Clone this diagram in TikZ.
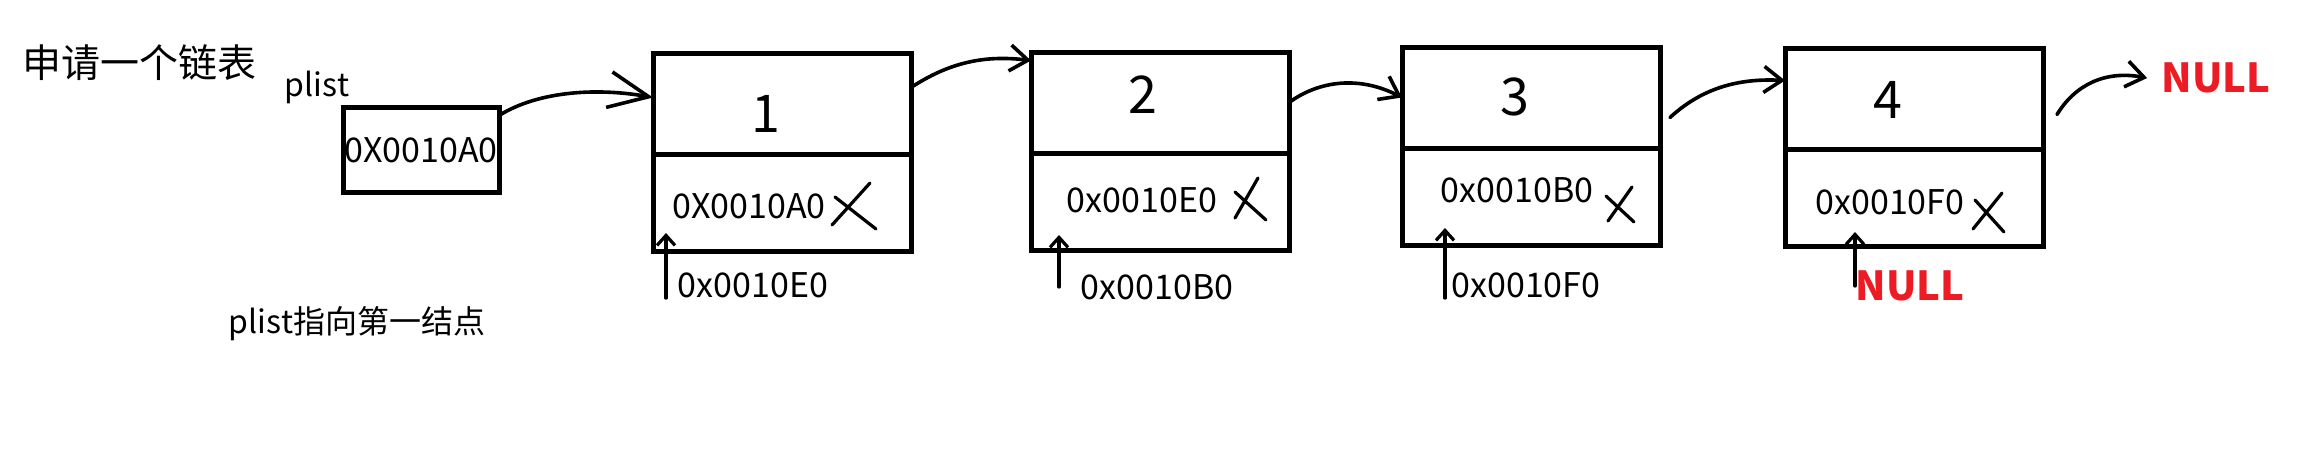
\documentclass[tikz,border=0pt]{standalone}
\usepackage{fontspec}
\setmainfont{Noto Sans CJK SC}
\usetikzlibrary{arrows.meta, positioning}
\definecolor{nullred}{RGB}{237,28,36}
\tikzset{
  datacell/.style={draw, line width=2.5pt, outer sep=0pt, inner sep=0pt,
    minimum width=129pt, minimum height=50.5pt, anchor=north west},
  nextcell/.style={draw, line width=2.5pt, outer sep=0pt, inner sep=0pt,
    minimum width=129pt, minimum height=48.5pt},
  ptrbox/.style={draw, line width=2.5pt, outer sep=0pt, inner sep=0pt,
    minimum width=78pt, minimum height=42.5pt, font=\fontsize{17pt}{20pt}\selectfont},
  val/.style={font=\fontsize{26pt}{30pt}\selectfont, inner sep=0pt},
  addr/.style={font=\fontsize{17pt}{20pt}\selectfont, inner sep=0pt},
  nulltxt/.style={font=\fontsize{20pt}{24pt}\selectfont\bfseries, text=nullred, inner sep=0pt},
  note/.style={font=\fontsize{16pt}{19pt}\selectfont, inner sep=0pt},
  link/.style={line width=1.8pt, line cap=round, -{Straight Barb[length=9pt, width=13pt]}},
  up/.style={line width=1.6pt, line cap=round, -{Straight Barb[length=5pt, width=9pt]}},
  cross/.style={line width=1.6pt, line cap=round},
}
\begin{document}
\begin{tikzpicture}[x=0.5pt, y=-0.5pt]
  \fill[white] (0,0) rectangle (2309,457);
  \useasboundingbox (0,0) rectangle (2309,457);
  % headings
  \node[font=\fontsize{19.5pt}{23pt}\selectfont, inner sep=0pt] (title) at (140,63) {申请一个链表};
  \node[note] (pname) at (317,87) {plist};
  \node[note] (pnote) at (357,324) {plist指向第一结点};
  % head pointer
  \node[ptrbox] (pbox) at (421,150) {0X0010A0};
  % list nodes
  \node[datacell] (d1) at (653,53) {};
  \node[nextcell, below=0pt of d1] (n1) {};
  \node[datacell] (d2) at (1031,52) {};
  \node[nextcell, below=0pt of d2] (n2) {};
  \node[datacell] (d3) at (1402,47) {};
  \node[nextcell, below=0pt of d3] (n3) {};
  \node[datacell] (d4) at (1785,48) {};
  \node[nextcell, below=0pt of d4] (n4) {};
  \node[val] (v1) at (766,114) {1};
  \node[val] (v2) at (1143,95) {2};
  \node[val] (v3) at (1515,97) {3};
  \node[val] (v4) at (1888,100) {4};
  \node[addr] (a1) at (749,206) {0X0010A0};
  \node[addr] (a2) at (1142,200) {0x0010E0};
  \node[addr] (a3) at (1517,190) {0x0010B0};
  \node[addr] (a4) at (1890,202) {0x0010F0};
  % crossed out
  \draw[cross] (835,197) -- (876,229) (870,183) -- (832,225);
  \draw[cross] (1258,178) -- (1235,218) (1235,192) -- (1266,220);
  \draw[cross] (1632,187) -- (1608,221) (1606,196) -- (1634,222);
  \draw[cross] (2002,193) -- (1973,229) (1975,200) -- (2004,232);
  % addresses below
  \node[addr] (b1) at (753,285) {0x0010E0};
  \node[addr] (b2) at (1157,287) {0x0010B0};
  \node[addr] (b3) at (1526,285) {0x0010F0};
  \node[nulltxt] (b4) at (1910,286) {NULL};
  \node[nulltxt] (tail) at (2216,78) {NULL};
  \coordinate (t1) at (666,233);
  \coordinate (t2) at (1059,235);
  \coordinate (t3) at (1445,228);
  \coordinate (t4) at (1855,232);
  \draw[up] (t1 |- b1.south) -- (t1);
  \draw[up] (t2 |- b2.center) -- (t2);
  \draw[up] (t3 |- b3.south) -- ++(0,-8) -- (t3);
  \draw[up] (t4 |- b4.center) -- (t4);
  % links
  \draw[link, -{Straight Barb[length=20pt, width=18pt]}] ([yshift=-4pt]pbox.north east)
    .. controls (540,90) and (600,88) .. ([yshift=3pt]d1.west);
  \draw[link] ([yshift=8pt]d1.east) .. controls (950,62) and (985,55) .. ([yshift=21pt]d2.west);
  \draw[link] (d2.east) .. controls (1320,80) and (1360,76) .. (d3.west);
  \draw[link] ([shift={(5pt,-10pt)}]d3.east) .. controls (1700,90) and (1735,78) .. ([yshift=9pt]d4.west);
  \draw[link] ([shift={(7pt,-8pt)}]d4.east) .. controls (2075,85) and (2105,70) .. ([xshift=-7pt]tail.west);
\end{tikzpicture}
\end{document}
